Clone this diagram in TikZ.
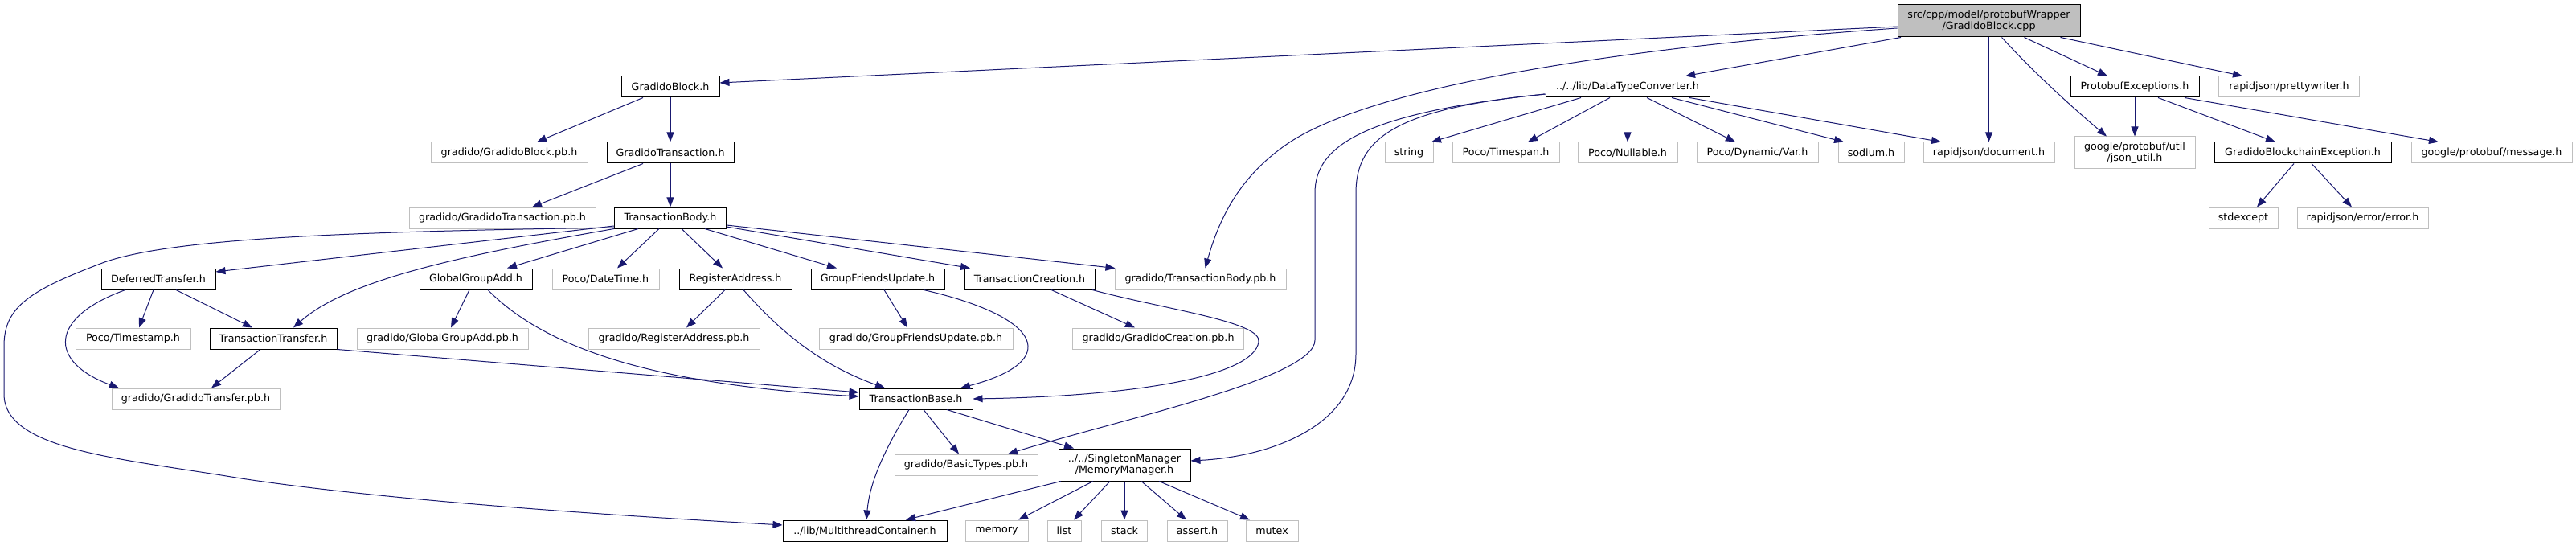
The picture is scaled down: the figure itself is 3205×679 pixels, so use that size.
\documentclass[tikz,border=0pt]{standalone}
\usepackage{fontspec}
\usetikzlibrary{arrows.meta}
\newfontfamily\dxfont{DejaVu Sans}
\definecolor{edgeblue}{HTML}{191970}
\definecolor{extgray}{HTML}{BFBFBF}
\definecolor{rootgray}{HTML}{BFBFBF}
\tikzset{
  basebox/.style={rectangle, inner sep=0pt, minimum height=26pt, align=center, line width=1pt,
    font={\dxfont\fontsize{12.7}{14.3}\selectfont}},
  docbox/.style={basebox, draw=black, fill=white},
  extbox/.style={basebox, draw=extgray, fill=white},
  rootbox/.style={basebox, draw=black, fill=rootgray},
  edge/.style={draw=edgeblue, line width=1pt, -{Triangle[length=12pt,width=9pt]}},
}
\begin{document}
\begin{tikzpicture}[x=1pt,y=-1pt]
\useasboundingbox (0,0) rectangle (3205,679);
\fill[white] (0,0) rectangle (3205,679);
% row 0
\node[rootbox, minimum width=227pt, minimum height=40pt] (root) at (2474.5,26) {src/cpp/model/protobufWrapper\\/GradidoBlock.cpp};
% row 1
\node[docbox, minimum width=122pt] (gbh) at (834,108) {GradidoBlock.h};
\node[docbox, minimum width=204pt] (dtc) at (2025,108) {../../lib/DataTypeConverter.h};
\node[docbox, minimum width=160pt] (pex) at (2656,108) {ProtobufExceptions.h};
\node[extbox, minimum width=175pt] (pw) at (2848,108) {rapidjson/prettywriter.h};
% row 2
\node[extbox, minimum width=195pt] (gbpb) at (633.5,190) {gradido/GradidoBlock.pb.h};
\node[docbox, minimum width=158pt] (gtr) at (834,190) {GradidoTransaction.h};
\node[extbox, minimum width=60pt] (str) at (1753,190) {string};
\node[extbox, minimum width=133pt] (tspan) at (1873.5,190) {Poco/Timespan.h};
\node[extbox, minimum width=124pt] (nul) at (2025,190) {Poco/Nullable.h};
\node[extbox, minimum width=151pt] (var) at (2186.5,190) {Poco/Dynamic/Var.h};
\node[extbox, minimum width=82pt] (sod) at (2328,190) {sodium.h};
\node[extbox, minimum width=163pt] (rdoc) at (2474.5,190) {rapidjson/document.h};
\node[extbox, minimum width=150pt, minimum height=40pt] (jsu) at (2656,190) {google/protobuf/util\\/json\_util.h};
\node[docbox, minimum width=220pt] (gbce) at (2865,190) {GradidoBlockchainException.h};
\node[extbox, minimum width=200pt] (msg) at (3100,190) {google/protobuf/message.h};
% row 3
\node[extbox, minimum width=232pt] (gtpb) at (625,271) {gradido/GradidoTransaction.pb.h};
\node[docbox, minimum width=139pt] (tb) at (834,271) {TransactionBody.h};
\node[extbox, minimum width=86pt] (stdx) at (2791,271) {stdexcept};
\node[extbox, minimum width=163pt] (err) at (2939.5,271) {rapidjson/error/error.h};
% row 4
\node[docbox, minimum width=142pt] (dt) at (197,347) {DeferredTransfer.h};
\node[docbox, minimum width=140pt] (gga) at (592,347) {GlobalGroupAdd.h};
\node[extbox, minimum width=133pt] (pdt) at (753.5,347) {Poco/DateTime.h};
\node[docbox, minimum width=140pt] (ra) at (915,347) {RegisterAddress.h};
\node[docbox, minimum width=166pt] (gfu) at (1092,347) {GroupFriendsUpdate.h};
\node[docbox, minimum width=162pt] (tc) at (1281,347) {TransactionCreation.h};
\node[extbox, minimum width=213pt] (tbpb) at (1493.5,347) {gradido/TransactionBody.pb.h};
% row 5
\node[extbox, minimum width=143pt] (pts) at (165.5,421) {Poco/Timestamp.h};
\node[docbox, minimum width=158pt] (tt) at (340,421) {TransactionTransfer.h};
\node[extbox, minimum width=213pt] (ggapb) at (550.5,421) {gradido/GlobalGroupAdd.pb.h};
\node[extbox, minimum width=213pt] (rapb) at (838.5,421) {gradido/RegisterAddress.pb.h};
\node[extbox, minimum width=241pt] (gfupb) at (1139.5,421) {gradido/GroupFriendsUpdate.pb.h};
\node[extbox, minimum width=213pt] (gcpb) at (1441,421) {gradido/GradidoCreation.pb.h};
% row 6
\node[extbox, minimum width=209pt] (gtfpb) at (243.5,496) {gradido/GradidoTransfer.pb.h};
\node[docbox, minimum width=141pt] (tbase) at (1139.5,496) {TransactionBase.h};
% row 7
\node[extbox, minimum width=178pt] (btpb) at (1202,578) {gradido/BasicTypes.pb.h};
\node[docbox, minimum width=164pt, minimum height=40pt] (mm) at (1399,578) {../../SingletonManager\\/MemoryManager.h};
% row 8
\node[docbox, minimum width=204pt] (mtc) at (1076,660) {../lib/MultithreadContainer.h};
\node[extbox, minimum width=78pt] (mem) at (1240,660) {memory};
\node[extbox, minimum width=42pt] (lst) at (1324,660) {list};
\node[extbox, minimum width=57pt] (stk) at (1399,660) {stack};
\node[extbox, minimum width=75pt] (ash) at (1489.5,660) {assert.h};
\node[extbox, minimum width=65pt] (mtx) at (1582.5,660) {mutex};

% edges from root
\draw[edge] ([yshift=-7pt]root.west) -- ([yshift=5pt]gbh.east);
\draw[edge] ([yshift=-9pt]root.west) .. controls (2000,60) and (1700,110) .. (1600,180) .. controls (1550,215) and (1520,260) .. ([xshift=6pt]tbpb.north);
\draw[edge] ([xshift=-109.5pt]root.south) -- ([xshift=72pt]dtc.north);
\draw[edge] (root.south) -- (rdoc.north);
\draw[edge] ([xshift=16pt]root.south) .. controls (2530,90) and (2580,135) .. ([xshift=-35pt]jsu.north);
\draw[edge] ([xshift=44pt]root.south) -- ([xshift=-34pt]pex.north);
\draw[edge] ([xshift=89pt]root.south) -- ([xshift=-58pt]pw.north);
% GradidoBlock.h
\draw[edge] ([xshift=-34pt]gbh.south) -- ([xshift=34.5pt]gbpb.north);
\draw[edge] (gbh.south) -- (gtr.north);
% GradidoTransaction.h
\draw[edge] ([xshift=-34pt]gtr.south) -- ([xshift=37pt]gtpb.north);
\draw[edge] (gtr.south) -- (tb.north);
% DataTypeConverter.h
\draw[edge] ([xshift=-58pt]dtc.south) -- ([xshift=28pt]str.north);
\draw[edge] ([xshift=-22pt]dtc.south) -- ([xshift=27.5pt]tspan.north);
\draw[edge] (dtc.south) -- (nul.north);
\draw[edge] ([xshift=24pt]dtc.south) -- ([xshift=-27.5pt]var.north);
\draw[edge] ([xshift=55pt]dtc.south) -- ([xshift=-34pt]sod.north);
\draw[edge] ([xshift=77pt]dtc.south) -- ([xshift=-59.5pt]rdoc.north);
\draw[edge] ([yshift=-9pt]dtc.west) .. controls (1700,140) and (1636,180) .. (1636,240) -- (1636,423) .. controls (1636,470) and (1400,520) .. ([xshift=52pt]btpb.north);
\draw[edge] ([yshift=-9pt]dtc.west) .. controls (1740,135) and (1687,170) .. (1687,240) -- (1687,440) .. controls (1687,530) and (1580,568) .. ([yshift=5pt]mm.east);
% ProtobufExceptions.h
\draw[edge] (pex.south) -- (jsu.north);
\draw[edge] ([xshift=29pt]pex.south) -- ([xshift=-34pt]gbce.north);
\draw[edge] ([xshift=62pt]pex.south) -- ([xshift=-66pt]msg.north);
% GradidoBlockchainException.h
\draw[edge] ([xshift=-11pt]gbce.south) -- ([xshift=17pt]stdx.north);
\draw[edge] ([xshift=11pt]gbce.south) -- ([xshift=-13.5pt]err.north);
% TransactionBody.h
\draw[edge] ([yshift=-10pt]tb.west) -- ([yshift=9pt]dt.east);
\draw[edge] ([yshift=-12pt]tb.west) .. controls (450,288) and (220,295) .. (130,326) .. controls (40,360) and (5,380) .. (5,430) -- (5,490) .. controls (5,560) and (150,570) .. (300,595) .. controls (500,625) and (800,643) .. ([yshift=7pt]mtc.west);
\draw[edge] (tb.south west) .. controls (560,320) and (430,350) .. ([xshift=25pt]tt.north);
\draw[edge] ([xshift=-40pt]tb.south) -- ([xshift=39pt]gga.north);
\draw[edge] ([xshift=-14pt]tb.south) -- ([xshift=14.5pt]pdt.north);
\draw[edge] ([xshift=14pt]tb.south) -- ([xshift=-16pt]ra.north);
\draw[edge] ([xshift=43pt]tb.south) -- ([xshift=-51pt]gfu.north);
\draw[edge] ([yshift=-11pt]tb.east) -- ([xshift=-74pt]tc.north);
\draw[edge] ([yshift=-9pt]tb.east) -- ([xshift=-106pt]tbpb.north);
% DeferredTransfer.h
\draw[edge] ([xshift=-6pt]dt.south) -- ([xshift=7.5pt]pts.north);
\draw[edge] ([xshift=22pt]dt.south) -- ([xshift=-26pt]tt.north);
\draw[edge] ([xshift=-41pt]dt.south) .. controls (60,395) and (60,450) .. ([xshift=-95.5pt]gtfpb.north);
% GlobalGroupAdd.h
\draw[edge] ([xshift=-8pt]gga.south) -- ([xshift=10.5pt]ggapb.north);
\draw[edge] ([xshift=15pt]gga.south) .. controls (690,445) and (850,480) .. ([yshift=3pt]tbase.west);
% TransactionTransfer.h
\draw[edge] ([xshift=-16pt]tt.south) -- ([xshift=19.5pt]gtfpb.north);
\draw[edge] (tt.south east) -- ([yshift=8pt]tbase.west);
% RegisterAddress.h
\draw[edge] ([xshift=-13pt]ra.south) -- ([xshift=15.5pt]rapb.north);
\draw[edge] ([xshift=10pt]ra.south) .. controls (960,400) and (1010,450) .. ([xshift=-38.5pt]tbase.north);
% GroupFriendsUpdate.h
\draw[edge] ([xshift=8pt]gfu.south) -- ([xshift=-10.5pt]gfupb.north);
\draw[edge] ([xshift=57pt]gfu.south) .. controls (1300,395) and (1320,450) .. ([xshift=55.5pt]tbase.north);
% TransactionCreation.h
\draw[edge] ([xshift=27pt]tc.south) -- ([xshift=-29pt]gcpb.north);
\draw[edge] ([xshift=78pt]tc.south) .. controls (1450,385) and (1570,400) .. (1566,425) .. controls (1560,470) and (1400,493) .. (tbase.east);
% TransactionBase.h
\draw[edge] ([xshift=-8.5pt]tbase.south) .. controls (1100,560) and (1082,600) .. ([xshift=2pt]mtc.north);
\draw[edge] ([xshift=9.5pt]tbase.south) -- ([xshift=-9pt]btpb.north);
\draw[edge] ([xshift=38.5pt]tbase.south) -- ([xshift=-63pt]mm.north);
% MemoryManager.h
\draw[edge] ([xshift=-79pt]mm.south) -- ([xshift=51pt]mtc.north);
\draw[edge] ([xshift=-39pt]mm.south) -- ([xshift=27pt]mem.north);
\draw[edge] ([xshift=-18pt]mm.south) -- ([xshift=12pt]lst.north);
\draw[edge] (mm.south) -- (stk.north);
\draw[edge] ([xshift=21pt]mm.south) -- ([xshift=-13.5pt]ash.north);
\draw[edge] ([xshift=43pt]mm.south) -- ([xshift=-27.5pt]mtx.north);
\end{tikzpicture}
\end{document}
